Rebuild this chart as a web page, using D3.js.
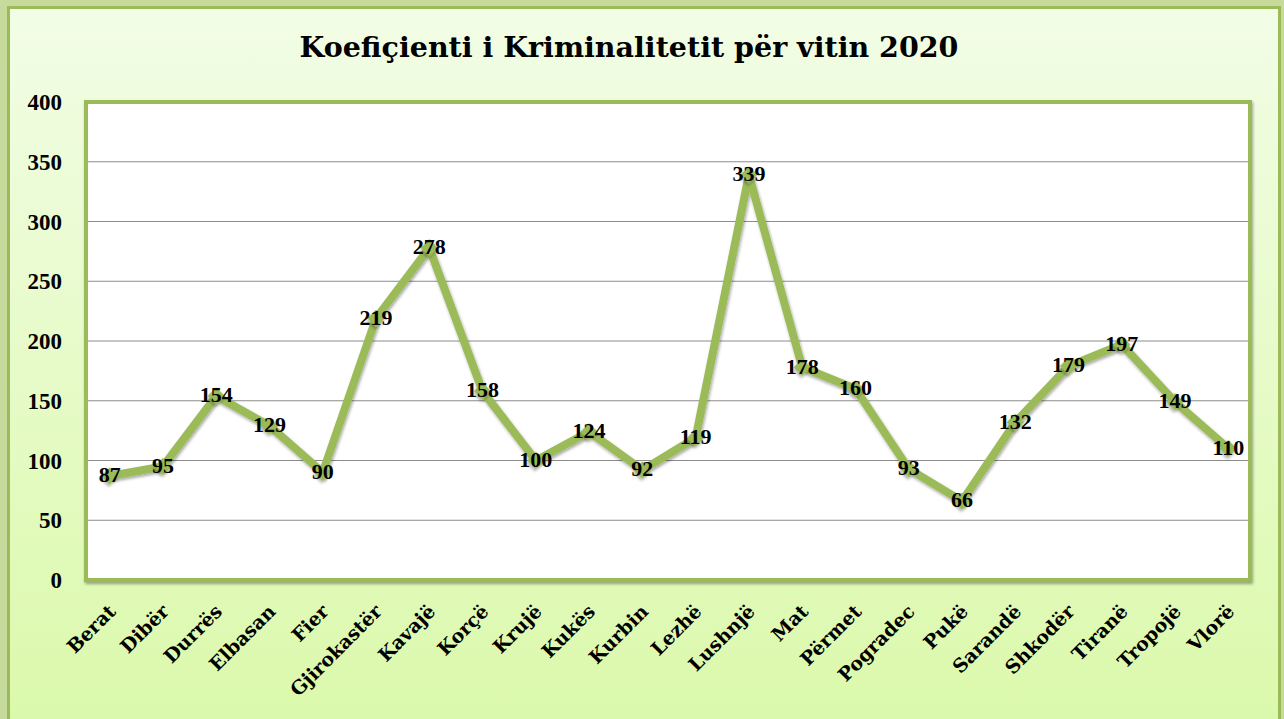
<!DOCTYPE html>
<html>
<head>
<meta charset="utf-8">
<script src="https://cdn.jsdelivr.net/npm/d3@7"></script>
<style>
  body { margin: 0; background: #c6da9c; }
  svg { display: block; }
</style>
</head>
<body>
<div id="chart"></div>
<script>
// data
const cities = ["Berat", "Dibër", "Durrës", "Elbasan", "Fier", "Gjirokastër", "Kavajë", "Korçë",
    "Krujë", "Kukës", "Kurbin", "Lezhë", "Lushnjë", "Mat", "Përmet", "Pogradec", "Pukë",
    "Sarandë", "Shkodër", "Tiranë", "Tropojë", "Vlorë"];
const koeficienti = [87, 95, 154, 129, 90, 219, 278, 158, 100, 124, 92, 119, 339, 178, 160, 93, 66,
    132, 179, 197, 149, 110];
const yTicks = [0, 50, 100, 150, 200, 250, 300, 350, 400];
const titleText = "Koefiçienti i Kriminalitetit për vitin 2020";

function main() {
    const W = 1284, H = 719;
    const font = "'DejaVu Serif', 'Liberation Serif', serif";
    const numFont = "'Liberation Serif', 'DejaVu Serif', serif";
    const green = "#9bbb59";

    const svg = d3.select("#chart").append("svg")
        .attr("width", W)
        .attr("height", H);

    const defs = svg.append("defs");
    const grad = defs.append("linearGradient")
        .attr("id", "bg").attr("x1", 0).attr("y1", 0).attr("x2", 0).attr("y2", 1);
    grad.append("stop").attr("offset", "0%").attr("stop-color", "#f2fde6");
    grad.append("stop").attr("offset", "100%").attr("stop-color", "#dbf9ab");

    const shadow = defs.append("filter").attr("id", "shadow")
        .attr("x", "-50%").attr("y", "-50%").attr("width", "200%").attr("height", "200%");
    shadow.append("feDropShadow")
        .attr("dx", 1).attr("dy", 2).attr("stdDeviation", 1.5)
        .attr("flood-color", "#000").attr("flood-opacity", 0.35);

    // outer chart area
    svg.append("rect")
        .attr("x", 8.5).attr("y", 7.5)
        .attr("width", 1271).attr("height", H)
        .attr("fill", "url(#bg)")
        .attr("stroke", green).attr("stroke-width", 3);

    // title
    svg.append("text")
        .attr("x", 629).attr("y", 57)
        .attr("text-anchor", "middle")
        .style("font-family", font)
        .style("font-weight", "bold")
        .style("font-size", "28.5px")
        .attr("fill", "#000")
        .text(titleText);

    const left = 86, right = 1250, top = 102, bottom = 580;

    const x = d3.scalePoint()
        .domain(cities)
        .range([83, 1255])
        .padding(0.5);

    const y = d3.scaleLinear()
        .domain([0, 400])
        .range([bottom, top]);

    // plot area
    svg.append("rect")
        .attr("x", left).attr("y", top)
        .attr("width", right - left).attr("height", bottom - top)
        .attr("fill", "#fff")
        .attr("stroke", green).attr("stroke-width", 4)
        .attr("filter", "url(#shadow)");

    // gridlines
    svg.append("g")
        .selectAll("line")
        .data(yTicks.filter(d => d > 0 && d < 400))
        .join("line")
        .attr("x1", left + 2).attr("x2", right - 2)
        .attr("y1", d => y(d)).attr("y2", d => y(d))
        .attr("stroke", "#8c8c8c").attr("stroke-width", 1);

    // y axis
    const yAxis = svg.append("g")
        .attr("transform", "translate(" + (left - 24) + ",0)")
        .call(d3.axisLeft(y).tickValues(yTicks).tickSize(0).tickPadding(0));
    yAxis.select(".domain").remove();
    yAxis.selectAll("text")
        .style("font-family", numFont)
        .style("font-weight", "bold")
        .style("font-size", "23px")
        .attr("fill", "#000")
        .attr("dy", "0.33em");

    // x axis labels
    const xAxis = svg.append("g")
        .attr("transform", "translate(0," + (bottom + 8) + ")")
        .call(d3.axisBottom(x).tickSize(0).tickPadding(0));
    xAxis.select(".domain").remove();
    xAxis.selectAll("text")
        .style("font-family", font)
        .style("font-weight", "bold")
        .style("font-size", "19px")
        .attr("fill", "#000")
        .attr("text-anchor", "end")
        .attr("x", 0).attr("y", 0)
        .attr("dy", "0.35em")
        .attr("transform", "translate(2,20) rotate(-45)");

    // line
    const line = d3.line()
        .x((d, i) => x(cities[i]))
        .y(d => y(d));

    svg.append("path")
        .datum(koeficienti)
        .attr("d", line)
        .attr("fill", "none")
        .attr("stroke", green)
        .attr("stroke-width", 8)
        .attr("stroke-linejoin", "miter")
        .attr("filter", "url(#shadow)");

    // diamond markers
    svg.append("g")
        .selectAll("path")
        .data(koeficienti)
        .join("path")
        .attr("d", d3.symbol().type(d3.symbolSquare).size(150))
        .attr("transform", (d, i) => "translate(" + x(cities[i]) + "," + y(d) + ") rotate(45)")
        .attr("fill", green)
        .attr("filter", "url(#shadow)");

    // data labels
    svg.append("g")
        .selectAll("text")
        .data(koeficienti)
        .join("text")
        .attr("x", (d, i) => x(cities[i]))
        .attr("y", d => y(d) - 1)
        .attr("dy", "0.33em")
        .attr("text-anchor", "middle")
        .style("font-family", numFont)
        .style("font-weight", "bold")
        .style("font-size", "22px")
        .attr("fill", "#000")
        .text(d => d);
}
main();
</script>
</body>
</html>
